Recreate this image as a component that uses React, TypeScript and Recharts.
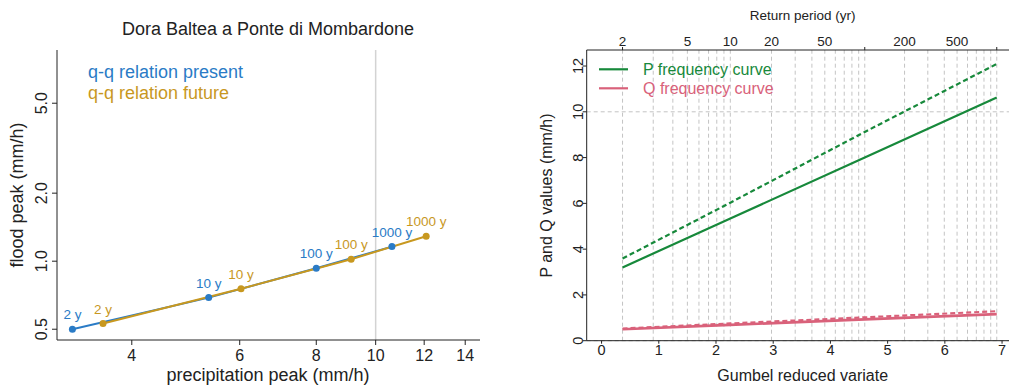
import React from 'react';
import {
  ComposedChart,
  Line,
  XAxis,
  YAxis,
  ReferenceLine,
  LabelList,
} from 'recharts';

const FONT = '"Liberation Sans", Arial, Helvetica, sans-serif';

// ---- data ----
const returnPeriods = [2, 10, 100, 1000];
const periodLabels = ['2 y', '10 y', '100 y', '1000 y'];
const precipPresent = [3.2, 5.34, 8.0, 10.63];
const precipFuture = [3.59, 6.03, 9.12, 12.09];
const floodPresent = [0.5, 0.69, 0.93, 1.16];
const floodFuture = [0.53, 0.755, 1.02, 1.29];

const leftXTicks = [4, 6, 8, 10, 12, 14];
const leftYTicks = [0.5, 1, 2, 5];
const rightXTicks = [0, 1, 2, 3, 4, 5, 6, 7];
const rightYTicks = [0, 2, 4, 6, 8, 10, 12];
const gridPeriods = [
  2, 3, 4, 5, 6, 7, 8, 9, 10,
  20, 30, 40, 50, 60, 70, 80, 90, 100,
  200, 300, 400, 500, 600, 700, 800, 900, 1000,
];
const labelledPeriods = [2, 5, 10, 20, 50, 200, 500];
const markedPeriods = [2, 100, 1000];

const BLUE = '#2A7BC6';
const GOLD = '#C8981F';
const GREEN = '#17893B';
const RED = '#D9617A';

// Gumbel reduced variate of a return period (axis transform)
const gumbel = (T: number) => -Math.log(-Math.log(1 - 1 / T));

const qqPresent = returnPeriods.map((T, i) => ({ p: precipPresent[i], q: floodPresent[i], label: periodLabels[i] }));
const qqFuture = returnPeriods.map((T, i) => ({ p: precipFuture[i], q: floodFuture[i], label: periodLabels[i] }));
const pPresentCurve = returnPeriods.map((T, i) => ({ g: gumbel(T), v: precipPresent[i] }));
const pFutureCurve = returnPeriods.map((T, i) => ({ g: gumbel(T), v: precipFuture[i] }));
const qPresentCurve = returnPeriods.map((T, i) => ({ g: gumbel(T), v: floodPresent[i] }));
const qFutureCurve = returnPeriods.map((T, i) => ({ g: gumbel(T), v: floodFuture[i] }));

const topTickPeriods = Array.from(new Set([...labelledPeriods, ...markedPeriods])).sort((a, b) => a - b);
const topTicks = topTickPeriods.map(gumbel);

const LeftXTick = (props: any) => {
  const { x, y, payload } = props;
  return (
    <text x={x} y={y} dy="0.71em" textAnchor="middle" fontSize={16} fill="#222" fontFamily={FONT}>
      {payload.value}
    </text>
  );
};

const LeftYTick = (props: any) => {
  const { x, y, payload } = props;
  return (
    <text x={x} y={y} transform={`rotate(-90 ${x} ${y})`} textAnchor="middle" fontSize={16} fill="#222" fontFamily={FONT}>
      {Number(payload.value).toFixed(1)}
    </text>
  );
};

const RightXTick = (props: any) => {
  const { x, y, payload } = props;
  return (
    <text x={x} y={y} dy="0.71em" textAnchor="middle" fontSize={14.5} fill="#222" fontFamily={FONT}>
      {payload.value}
    </text>
  );
};

const RightYTick = (props: any) => {
  const { x, y, payload } = props;
  return (
    <text x={x} y={y} transform={`rotate(-90 ${x} ${y})`} textAnchor="middle" fontSize={14.5} fill="#222" fontFamily={FONT}>
      {payload.value}
    </text>
  );
};

const TopTick = (props: any) => {
  const { x, y, payload } = props;
  const v = payload.value;
  let T = topTickPeriods[0];
  let best = Infinity;
  topTickPeriods.forEach((p) => {
    const d = Math.abs(gumbel(p) - v);
    if (d < best) {
      best = d;
      T = p;
    }
  });
  return (
    <g>
      {markedPeriods.includes(T) && (
        <line x1={x} x2={x} y1={y + 4} y2={y + 1} stroke="#222" strokeWidth={1} />
      )}
      {labelledPeriods.includes(T) && (
        <text x={x} y={y} textAnchor="middle" fontSize={13.5} fill="#222" fontFamily={FONT}>
          {T}
        </text>
      )}
    </g>
  );
};

const textStyle = { fontFamily: FONT, fill: '#222' };

export default function App() {
  return (
    <div
      style={{
        position: 'fixed',
        left: 0,
        top: 0,
        width: 1009,
        height: 387,
        overflow: 'hidden',
        background: '#fff',
      }}
    >
      {/* Left panel */}
      <div style={{ position: 'absolute', left: 0, top: 0 }}>
        <ComposedChart width={500} height={387} margin={{ top: 50, right: 20, bottom: 17, left: 17 }}>
          <XAxis
            dataKey="p"
            type="number"
            scale="log"
            domain={[3.02, 14.8]}
            allowDataOverflow
            ticks={leftXTicks}
            tick={<LeftXTick />}
            tickSize={5}
            tickMargin={5}
            height={30}
            axisLine={{ stroke: '#222' }}
            tickLine={{ stroke: '#222' }}
          />
          <XAxis xAxisId="box" orientation="top" type="number" domain={[0, 1]} height={0} tick={false} tickLine={false} axisLine={{ stroke: '#222' }} />
          <YAxis
            dataKey="q"
            type="number"
            scale="log"
            domain={[0.448, 8.6]}
            allowDataOverflow
            ticks={leftYTicks}
            tick={<LeftYTick />}
            tickSize={5}
            tickMargin={5}
            width={40}
            axisLine={{ stroke: '#222' }}
            tickLine={{ stroke: '#222' }}
          />
          <YAxis yAxisId="box" orientation="right" type="number" domain={[0, 1]} width={0} tick={false} tickLine={false} axisLine={{ stroke: '#222' }} />
          <ReferenceLine x={10} stroke="#d3d3d3" strokeWidth={1.5} />
          <Line
            data={qqPresent}
            dataKey="q"
            stroke={BLUE}
            strokeWidth={2}
            dot={{ r: 3.5, fill: BLUE, stroke: BLUE, strokeWidth: 0 }}
            isAnimationActive={false}
          >
            <LabelList dataKey="label" position="top" offset={10} fill={BLUE} fontSize={13.5} fontFamily={FONT} />
          </Line>
          <Line
            data={qqFuture}
            dataKey="q"
            stroke={GOLD}
            strokeWidth={2}
            dot={{ r: 3.5, fill: GOLD, stroke: GOLD, strokeWidth: 0 }}
            isAnimationActive={false}
          >
            <LabelList dataKey="label" position="top" offset={10} fill={GOLD} fontSize={13.5} fontFamily={FONT} />
          </Line>
        </ComposedChart>
      </div>

      {/* Right panel */}
      <div style={{ position: 'absolute', left: 520, top: 0 }}>
        <ComposedChart width={520} height={387} margin={{ top: 30, right: 26.5, bottom: 16.3, left: 26.7 }}>
          <XAxis
            dataKey="g"
            type="number"
            domain={[-0.26, 7.2]}
            allowDataOverflow
            ticks={rightXTicks}
            tick={<RightXTick />}
            tickSize={3}
            tickMargin={1}
            height={30}
            axisLine={{ stroke: '#222' }}
            tickLine={{ stroke: '#222' }}
          />
          <XAxis
            xAxisId="top"
            dataKey="g"
            orientation="top"
            type="number"
            domain={[-0.26, 7.2]}
            allowDataOverflow
            ticks={topTicks}
            tick={<TopTick />}
            tickSize={0}
            tickMargin={4}
            tickLine={false}
            height={20}
            axisLine={{ stroke: '#222' }}
            interval={0}
          />
          <YAxis
            type="number"
            domain={[0, 12.7]}
            allowDataOverflow
            ticks={rightYTicks}
            tick={<RightYTick />}
            tickSize={4}
            tickMargin={0}
            width={40}
            axisLine={{ stroke: '#222' }}
            tickLine={{ stroke: '#222' }}
            interval={0}
          />
          {gridPeriods.map((T) => (
            <ReferenceLine key={T} x={gumbel(T)} stroke="#c4c4c4" strokeDasharray="4 3" />
          ))}
          <ReferenceLine y={10} stroke="#c4c4c4" strokeDasharray="4 3" />
          <ReferenceLine y={0} stroke="#bdbdbd" strokeDasharray="4 3" />
          <Line
            xAxisId="top"
            data={pPresentCurve}
            dataKey="v"
            stroke="none"
            strokeWidth={0}
            dot={false}
            activeDot={false}
            legendType="none"
            isAnimationActive={false}
          />
          <Line data={qPresentCurve} dataKey="v" stroke={RED} strokeWidth={2.6} dot={false} isAnimationActive={false} />
          <Line data={qFutureCurve} dataKey="v" stroke={RED} strokeWidth={2.2} strokeDasharray="5 3" dot={false} isAnimationActive={false} />
          <Line data={pPresentCurve} dataKey="v" stroke={GREEN} strokeWidth={2.2} dot={false} isAnimationActive={false} />
          <Line data={pFutureCurve} dataKey="v" stroke={GREEN} strokeWidth={2.2} strokeDasharray="5 3" dot={false} isAnimationActive={false} />
        </ComposedChart>
      </div>

      {/* Titles, axis titles and legends */}
      <svg
        width={1009}
        height={387}
        style={{ position: 'absolute', left: 0, top: 0, pointerEvents: 'none' }}
      >
        <text x={268} y={35} textAnchor="middle" fontSize={18} style={textStyle}>
          Dora Baltea a Ponte di Mombardone
        </text>
        <text x={268} y={381} textAnchor="middle" fontSize={18} style={textStyle}>
          precipitation peak (mm/h)
        </text>
        <text x={23} y={195} textAnchor="middle" fontSize={18} transform="rotate(-90 23 195)" style={textStyle}>
          flood peak (mm/h)
        </text>
        <text x={88} y={78} fontSize={18} style={{ fontFamily: FONT, fill: BLUE }}>
          q-q relation present
        </text>
        <text x={88} y={98.5} fontSize={18} style={{ fontFamily: FONT, fill: GOLD }}>
          q-q relation future
        </text>

        <text x={802.7} y={20} textAnchor="middle" fontSize={13.5} style={textStyle}>
          Return period (yr)
        </text>
        <text x={802.7} y={381} textAnchor="middle" fontSize={16} style={textStyle}>
          Gumbel reduced variate
        </text>
        <text x={552} y={195.5} textAnchor="middle" fontSize={16} transform="rotate(-90 552 195.5)" style={textStyle}>
          P and Q values (mm/h)
        </text>
        <line x1={599} x2={628} y1={69.3} y2={69.3} stroke={GREEN} strokeWidth={2.2} />
        <line x1={599} x2={628} y1={88.3} y2={88.3} stroke={RED} strokeWidth={2.2} />
        <text x={643} y={75} fontSize={16} style={{ fontFamily: FONT, fill: GREEN }}>
          P frequency curve
        </text>
        <text x={643} y={93.5} fontSize={16} style={{ fontFamily: FONT, fill: RED }}>
          Q frequency curve
        </text>
      </svg>
    </div>
  );
}
